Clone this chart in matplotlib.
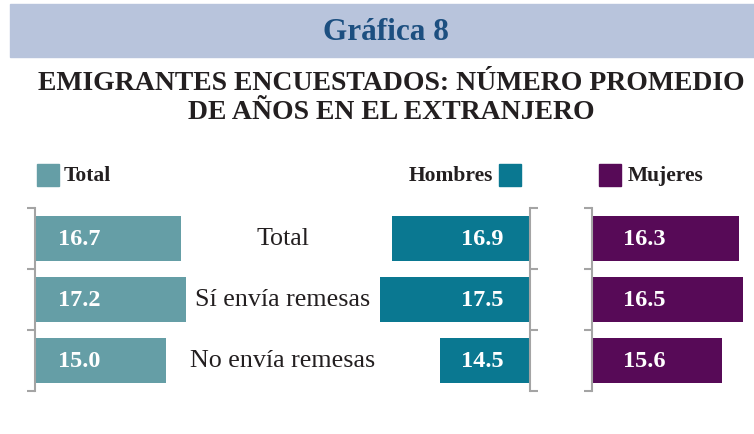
import matplotlib.pyplot as plt
from matplotlib.patches import Rectangle
from matplotlib import transforms

categories = ['Total', 'Sí envía remesas', 'No envía remesas']
total_vals = [16.7, 17.2, 15.0]
hombres_vals = [16.9, 17.5, 14.5]
mujeres_vals = [16.3, 16.5, 15.6]

c_total = '#659ea6'
c_hombres = '#0a7891'
c_mujeres = '#570a57'
c_axis = '#a4a4a4'

plt.rcParams['font.family'] = ['Liberation Serif', 'DejaVu Serif']

W, H = 754, 435
fig = plt.figure(figsize=(W / 100, H / 100), dpi=100)


def fx(px):
    return px / W


def fy(py):
    return 1 - py / H


# header band and titles
fig.patches.append(Rectangle((fx(10), fy(58)), 1 - fx(10), (58 - 5) / H,
                             transform=fig.transFigure, color='#b8c4dc', zorder=0))
fig.text(fx(386), fy(33), 'Gráfica 8', ha='center', va='center', fontsize=22.5,
         fontweight='bold', color='#1c4f80')
fig.text(fx(391), fy(83), 'EMIGRANTES ENCUESTADOS: NÚMERO PROMEDIO', ha='center',
         va='center', fontsize=20, fontweight='bold', color='#231f20')
fig.text(fx(391), fy(113), 'DE AÑOS EN EL EXTRANJERO', ha='center',
         va='center', fontsize=20, fontweight='bold', color='#231f20')

# legend
def legend_box(x, color):
    fig.patches.append(Rectangle((fx(x), fy(187)), 22 / W, 22 / H,
                                 transform=fig.transFigure, color=color))

legend_box(37, c_total)
fig.text(fx(64), fy(176), 'Total', ha='left', va='center', fontsize=15.5,
         fontweight='bold', color='#231f20')
legend_box(499, c_hombres)
fig.text(fx(493), fy(176), 'Hombres', ha='right', va='center', fontsize=15.5,
         fontweight='bold', color='#231f20')
legend_box(599, c_mujeres)
fig.text(fx(628), fy(176), 'Mujeres', ha='left', va='center', fontsize=15.5,
         fontweight='bold', color='#231f20')

y_top, y_bot = 209, 392
ypos = list(range(len(categories)))


def make_axes(x0, x1):
    return fig.add_axes([fx(x0), fy(y_bot), (x1 - x0) / W, (y_bot - y_top) / H])


def style(ax, side):
    for s in ['top', 'bottom', 'left', 'right']:
        ax.spines[s].set_visible(s == side)
    ax.spines[side].set_color(c_axis)
    ax.spines[side].set_linewidth(1.5)
    ax.set_ylim(2.5, -0.5)
    ax.set_xticks([])
    ax.set_yticks([-0.5, 0.5, 1.5, 2.5])
    ax.yaxis.set_ticks_position(side)
    ax.tick_params(axis='y', length=6, width=1.5, color=c_axis, labelleft=False,
                   labelright=False)
    ax.patch.set_visible(False)


bar_h = 0.75

# Total
ax1 = make_axes(35, 195)
ax1.barh(ypos, total_vals, height=bar_h, color=c_total)
ax1.set_xlim(0, 160 / 8.75)
style(ax1, 'left')
for y, v in zip(ypos, total_vals):
    ax1.annotate(f'{v:.1f}', (0, y), xytext=(16.5, 0), textcoords='offset points',
                 ha='left', va='center', color='white', fontsize=17.5, fontweight='bold')

# category labels
trans = transforms.blended_transform_factory(fig.transFigure, ax1.transData)
for y, c in zip(ypos, categories):
    fig.text(fx(283), y, c, transform=trans, ha='center', va='center',
             fontsize=18.7, color='#231f20')

# Hombres
ax2 = make_axes(370, 530)
ax2.barh(ypos, [v - 10 for v in hombres_vals], left=10, height=bar_h, color=c_hombres)
ax2.set_xlim(18, 10)
style(ax2, 'right')
for y, v in zip(ypos, hombres_vals):
    ax2.annotate(f'{v:.1f}', (10, y), xytext=(-19, 0), textcoords='offset points',
                 ha='right', va='center', color='white', fontsize=17.5, fontweight='bold')

# Mujeres
ax3 = make_axes(592, 750)
ax3.barh(ypos, [v - 10 for v in mujeres_vals], left=10, height=bar_h, color=c_mujeres)
ax3.set_xlim(10, 10 + 158 / 23.3)
style(ax3, 'left')
for y, v in zip(ypos, mujeres_vals):
    ax3.annotate(f'{v:.1f}', (10, y), xytext=(22, 0), textcoords='offset points',
                 ha='left', va='center', color='white', fontsize=17.5, fontweight='bold')

fig.savefig('out.png', dpi=100)
